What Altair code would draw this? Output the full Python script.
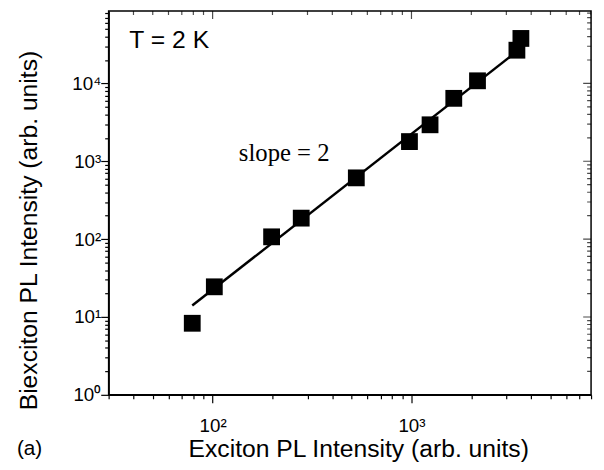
import altair as alt
import pandas as pd

# data
exciton = [79, 102, 198, 279, 528, 977, 1240, 1632, 2148, 3390, 3550]
biexciton = [8.3, 24.4, 107, 186, 612, 1790, 2940, 6430, 10800, 26700, 37800]

fit_x = [79, 3600]
fit_y = [14, 29070]

x_ticks = [30, 40, 50, 60, 70, 80, 90,
           100, 200, 300, 400, 500, 600, 700, 800, 900,
           1000, 2000, 3000, 4000, 5000, 6000, 7000, 8000]
y_ticks = [1, 2, 3, 4, 5, 6, 7, 8, 9,
           10, 20, 30, 40, 50, 60, 70, 80, 90,
           100, 200, 300, 400, 500, 600, 700, 800, 900,
           1000, 2000, 3000, 4000, 5000, 6000, 7000, 8000, 9000,
           10000, 20000, 30000, 40000, 50000, 60000, 70000, 80000]

x_domain = [30, 8000]
y_domain = [1, 85000]

W, H = 489, 389
FONT = "Liberation Sans"

pts = pd.DataFrame({"x": exciton, "y": biexciton})
fit = pd.DataFrame({"x": fit_x, "y": fit_y})
xt = pd.DataFrame({"x": x_ticks})
yt = pd.DataFrame({"y": y_ticks})

label_expr = ("datum.value == 1 ? '10⁰' : datum.value == 10 ? '10¹' : "
              "datum.value == 100 ? '10²' : datum.value == 1000 ? '10³' : "
              "datum.value == 10000 ? '10⁴' : ''")
major_test = ("datum.value == 1 || datum.value == 10 || datum.value == 100 || "
              "datum.value == 1000 || datum.value == 10000")

xscale = alt.Scale(type="log", domain=x_domain, nice=False)
yscale = alt.Scale(type="log", domain=y_domain, nice=False)

xaxis = alt.Axis(values=x_ticks, labelExpr=label_expr,
                 tickSize={"condition": {"test": major_test, "value": 8}, "value": 4},
                 tickColor="black", tickWidth=1.2, domainColor="black", domainWidth=1.5,
                 labelFont=FONT, labelFontSize=19, labelColor="black", labelPadding=14,
                 labelOverlap=False, grid=False,
                 title="Exciton PL Intensity (arb. units)", titleFont=FONT,
                 titleFontSize=25, titleFontWeight="normal", titleColor="black",
                 titleX=253, titleY=63, titleBaseline="alphabetic", titleAlign="center")
yaxis = alt.Axis(values=y_ticks, labelExpr=label_expr,
                 tickSize={"condition": {"test": major_test, "value": 8}, "value": 4},
                 tickColor="black", tickWidth=1.2, domainColor="black", domainWidth=1.5,
                 labelFont=FONT, labelFontSize=19, labelColor="black", labelPadding=0,
                 labelOverlap=False, grid=False,
                 title="Biexciton PL Intensity (arb. units)", titleFont=FONT,
                 titleFontSize=25, titleFontWeight="normal", titleColor="black",
                 titleX=-73, titleY=222, titleBaseline="alphabetic", titleAlign="center")

line = alt.Chart(fit).mark_line(color="black", strokeWidth=2.5).encode(
    x=alt.X("x:Q", scale=xscale, axis=xaxis),
    y=alt.Y("y:Q", scale=yscale, axis=yaxis),
)

points = alt.Chart(pts).mark_point(shape="square", filled=True, color="black",
                                   size=290, opacity=1).encode(
    x=alt.X("x:Q", scale=xscale),
    y=alt.Y("y:Q", scale=yscale),
)

top_ticks = alt.Chart(xt).mark_tick(color="black", thickness=1.2, clip=True,
                                    orient="vertical").encode(
    x=alt.X("x:Q", scale=xscale),
    y=alt.value(0),
    size=alt.condition(
        "datum.x == 100 || datum.x == 1000", alt.value(16), alt.value(8)),
)

right_ticks = alt.Chart(yt).mark_tick(color="black", thickness=1.2, clip=True,
                                      orient="horizontal").encode(
    y=alt.Y("y:Q", scale=yscale),
    x=alt.value(W),
    size=alt.condition(
        "datum.y == 1 || datum.y == 10 || datum.y == 100 || datum.y == 1000 || datum.y == 10000",
        alt.value(16), alt.value(8)),
)

ann = pd.DataFrame({"t": ["T = 2 K"]})
t_label = alt.Chart(ann).mark_text(font=FONT, fontSize=25, color="black",
                                   align="left", baseline="alphabetic").encode(
    text="t:N", x=alt.value(21), y=alt.value(37))

ann2 = pd.DataFrame({"t": ["slope = 2"]})
slope_label = alt.Chart(ann2).mark_text(font="Liberation Serif", fontSize=25,
                                        color="black", align="left",
                                        baseline="alphabetic").encode(
    text="t:N", x=alt.value(132), y=alt.value(152))

ann3 = pd.DataFrame({"t": ["(a)"]})
a_label = alt.Chart(ann3).mark_text(font=FONT, fontSize=21, color="black",
                                    align="left", baseline="alphabetic").encode(
    text="t:N", x=alt.value(-93), y=alt.value(450))

chart = alt.layer(line, points, top_ticks, right_ticks, t_label, slope_label, a_label).properties(
    width=W, height=H,
    autosize=alt.AutoSizeParams(type="none"),
    padding={"left": 102, "top": 0, "right": 5, "bottom": 65},
).configure(background="white").configure_view(stroke="black", strokeWidth=1.5)

chart.save("out.html", embed_options={"renderer": "svg", "actions": False})
